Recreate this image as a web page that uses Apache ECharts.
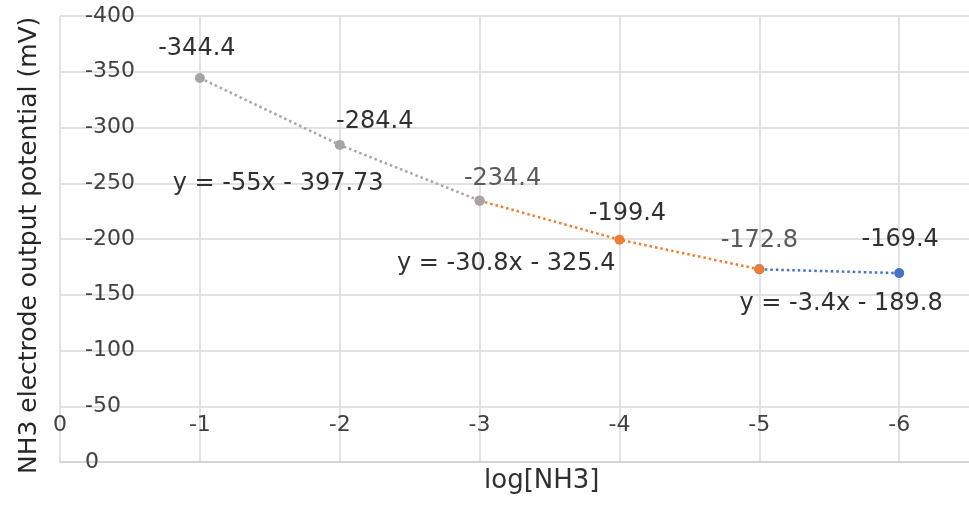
<!DOCTYPE html>
<html>
<head>
<meta charset="utf-8">
<script src="https://cdn.jsdelivr.net/npm/echarts@6/dist/echarts.min.js"></script>
<style>
html,body{margin:0;padding:0;background:#fff;overflow:hidden;width:969px;height:507px;}
#chart{width:1053px;height:507px;}
</style>
</head>
<body>
<div id="chart"></div>
<script>
// ---- data ----
var greyX = [-1, -2, -3];
var greyY = [-344.4, -284.4, -234.4];
var orangeX = [-3, -4, -5];
var orangeY = [-234.4, -199.4, -172.8];
var blueX = [-5, -6];
var blueY = [-172.8, -169.4];
var equations = ['y = -55x - 397.73', 'y = -30.8x - 325.4', 'y = -3.4x - 189.8'];
var equationAnchors = [[-1.56, -249.3], [-3.19, -177.6], [-5.585, -141.7]];
var xTitle = 'log[NH3]';
var yTitle = 'NH3 electrode output potential (mV)';

// ---- styles ----
var FONT = 'DejaVu Sans';
var TXT = '#303030';
var labelFont = 24;
// label offsets per point (px), relative to point centre
var greyOff = [[-3, -29], [35, -23], [23, -22]];
var orangeOff = [null, [8, -26], [0, -29]];
var blueOff = [[0, -29], [1, -33]];
var showLabel = {grey: [true, true, true], orange: [false, true, true], blue: [false, true]};

function build(xs, ys, offs, shows, lightIdx) {
  return xs.map(function (x, i) {
    var o = offs[i] || [0, 0];
    return {
      value: [x, ys[i]],
      label: {
        show: shows[i],
        position: 'inside',
        offset: o,
        formatter: String(ys[i]),
        color: (lightIdx.indexOf(i) >= 0) ? '#5a5a5a' : TXT,
        fontFamily: FONT,
        fontSize: labelFont
      }
    };
  });
}

function lineSeries(name, color, data, z) {
  return {
    name: name,
    type: 'line',
    data: data,
    z: z,
    symbol: 'circle',
    symbolSize: 10,
    itemStyle: {color: color},
    lineStyle: {color: color, width: 2.5, type: [2.5, 3]},
    emphasis: {disabled: true},
    animation: false
  };
}

var chart = echarts.init(document.getElementById('chart'));
var greyData = build(greyX, greyY, greyOff, showLabel.grey, [2]);
var orangeData = build(orangeX, orangeY, orangeOff, showLabel.orange, [2]);
var blueData = build(blueX, blueY, blueOff, showLabel.blue, []);

var eqSeries = {
  type: 'scatter',
  symbolSize: 0,
  silent: true,
  z: 10,
  itemStyle: {opacity: 1},
  data: equationAnchors.map(function (a, i) {
    return {
      value: a,
      label: {
        show: true,
        position: 'inside',
        formatter: equations[i],
        color: TXT,
        opacity: 1,
        fontFamily: FONT,
        fontSize: labelFont
      }
    };
  }),
  animation: false
};

chart.setOption({
  backgroundColor: '#ffffff',
  animation: false,
  grid: {left: 60, top: 16, bottom: 45, right: 0, containLabel: false},
  xAxis: {
    type: 'value',
    min: -7, max: 0, interval: 1,
    inverse: true,
    axisLine: {show: true, lineStyle: {color: '#d0d0d0', width: 1.5}},
    axisTick: {show: false},
    splitLine: {show: true, lineStyle: {color: '#d9d9d9', width: 1.5}},
    axisLabel: {
      inside: true,
      margin: 37,
      verticalAlign: 'middle',
      color: '#404040',
      fontFamily: FONT,
      fontSize: 22
    }
  },
  yAxis: {
    type: 'value',
    min: -400, max: 0, interval: 50,
    inverse: true,
    axisLine: {show: false},
    axisTick: {show: false},
    splitLine: {show: true, lineStyle: {color: '#d9d9d9', width: 1.5}},
    axisLabel: {
      inside: true,
      margin: 25,
      align: 'left',
      color: '#404040',
      fontFamily: FONT,
      fontSize: 22
    }
  },
  graphic: [
    {
      type: 'text',
      left: 484, top: 468,
      style: {text: xTitle, fill: TXT, font: '26px "DejaVu Sans"'}
    },
    {
      type: 'text',
      rotation: Math.PI / 2,
      x: 17, y: 474,
      style: {text: yTitle, fill: '#262626', font: '25px "DejaVu Sans"'}
    }
  ],
  series: [
    lineSeries('blue', '#4472c4', blueData, 2),
    lineSeries('orange', '#ed7d31', orangeData, 3),
    lineSeries('grey', '#a5a5a5', greyData, 4),
    eqSeries
  ]
});
</script>
</body>
</html>
